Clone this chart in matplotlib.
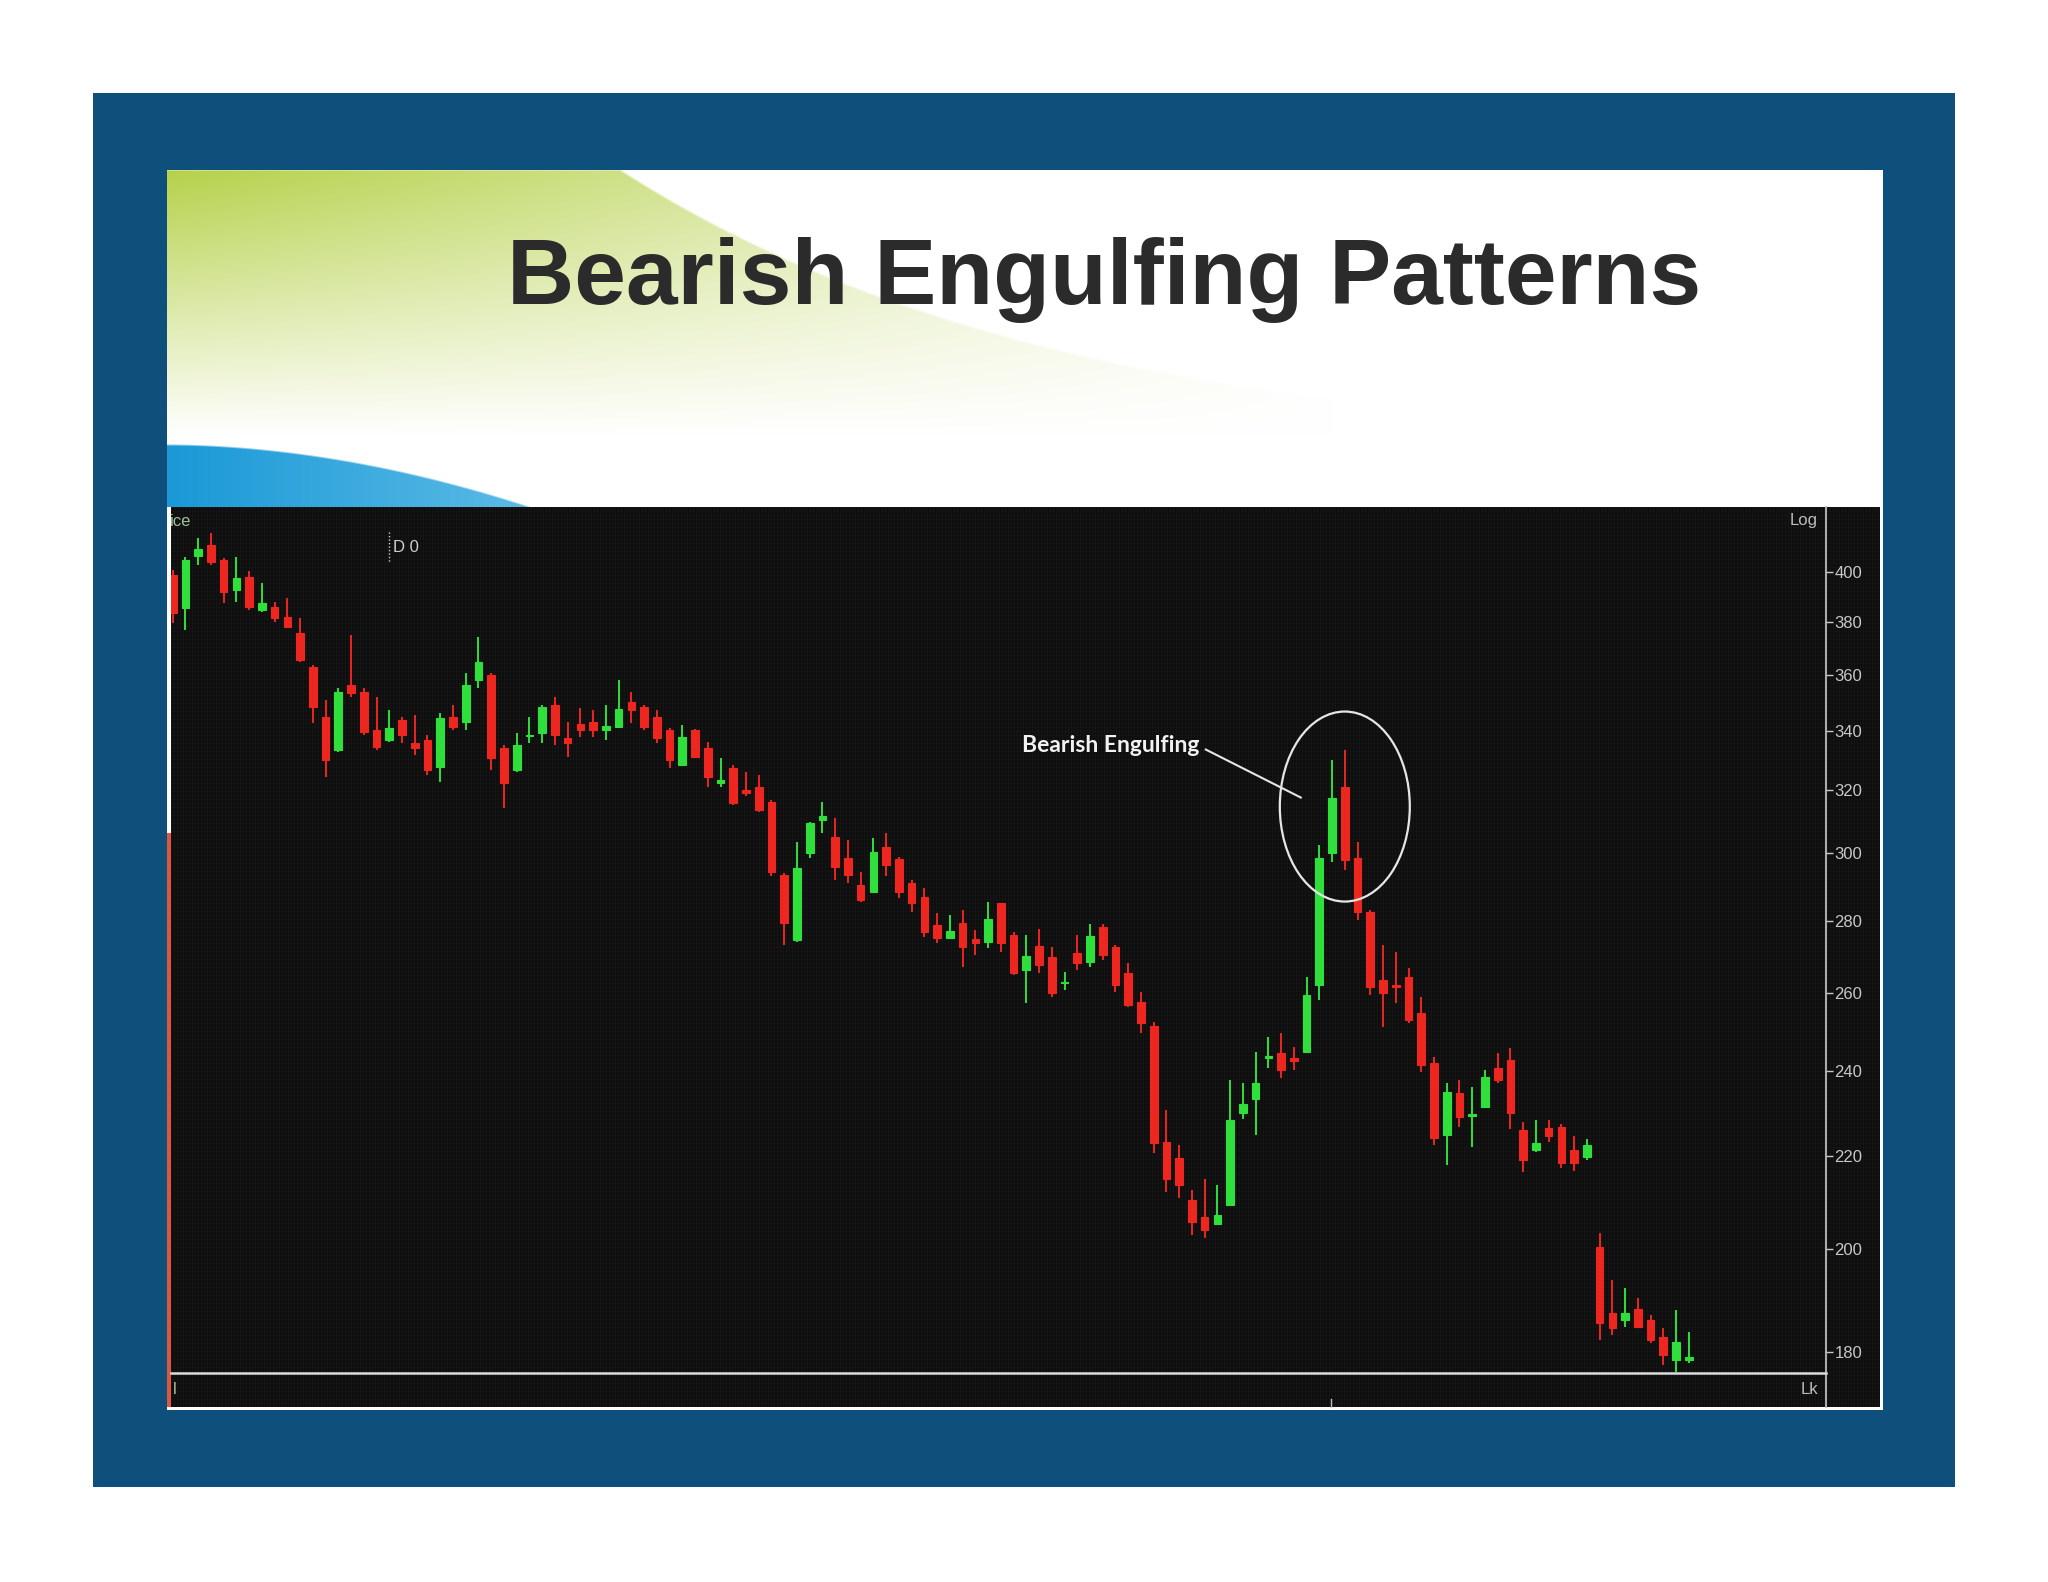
import numpy as np
import matplotlib
matplotlib.use("Agg")
import matplotlib.pyplot as plt
from matplotlib.patches import Rectangle, Ellipse
from matplotlib.ticker import FixedLocator, NullLocator, FuncFormatter

# ---------------- data ----------------
title = "Bearish Engulfing Patterns"
annotation = "Bearish Engulfing"
pattern_day = 93            # red candle that engulfs the previous green one
pattern_price = 314.7       # vertical centre of the highlight ellipse
price_ticks = [180, 200, 220, 240, 260, 280, 300, 320, 340, 360, 380, 400]

opens = [398.9, 385.6, 406.8, 411.4, 405.1, 392.9, 398.2, 384.9, 386.2, 382.2,
         375.8, 363.2, 345.0, 333.5, 356.4, 354.0, 340.4, 336.9, 343.9, 336.0,
         336.9, 327.8, 345.0, 343.3, 358.3, 360.1, 334.1, 326.7, 338.4, 339.2,
         349.2, 337.5, 342.5, 343.3, 340.2, 341.3, 350.4, 348.6, 345.0, 340.4,
         328.4, 340.4, 334.1, 322.3, 327.3, 320.1, 321.2, 316.3, 293.4, 274.5,
         300.0, 310.4, 305.1, 298.4, 290.4, 288.4, 302.0, 298.1, 290.9, 286.9,
         278.8, 275.0, 279.2, 274.7, 274.0, 285.0, 275.9, 266.2, 272.8, 269.8,
         262.6, 270.8, 268.5, 278.3, 272.6, 265.3, 257.7, 251.4, 223.3, 219.5,
         210.3, 206.7, 205.3, 209.3, 229.9, 233.2, 243.2, 244.4, 243.2, 244.8,
         262.1, 300.0, 321.2, 298.4, 282.6, 263.5, 262.1, 264.4, 254.6, 241.9,
         224.8, 234.8, 229.2, 231.4, 240.7, 242.8, 226.0, 221.4, 226.4, 226.6,
         221.4, 219.8, 200.5, 187.3, 186.0, 188.2, 186.0, 182.8, 178.5, 178.5]
highs = [401.0, 406.5, 414.2, 416.4, 405.8, 406.5, 400.7, 395.6, 388.2, 389.5,
         381.6, 363.8, 351.0, 355.2, 375.2, 355.2, 352.2, 347.4, 345.0, 345.6,
         338.6, 346.2, 349.2, 360.7, 374.5, 360.7, 335.2, 339.2, 345.0, 349.2,
         352.2, 343.3, 348.0, 347.4, 349.2, 358.3, 354.0, 349.2, 347.4, 341.0,
         342.1, 340.7, 336.3, 330.7, 328.4, 326.2, 325.0, 316.8, 293.9, 303.6,
         309.9, 316.3, 311.0, 304.1, 294.4, 304.6, 306.2, 298.9, 291.9, 289.4,
         282.1, 281.6, 283.1, 277.3, 285.5, 285.2, 276.8, 275.9, 277.5, 272.6,
         265.7, 275.9, 279.0, 279.0, 273.1, 268.0, 260.3, 252.5, 230.6, 222.5,
         212.5, 215.0, 213.6, 237.8, 237.2, 244.8, 248.6, 249.5, 246.1, 264.4,
         302.6, 330.1, 333.5, 303.6, 283.1, 273.1, 271.2, 266.6, 259.0, 243.5,
         237.0, 237.8, 236.2, 240.3, 244.4, 245.7, 227.8, 228.3, 228.3, 227.4,
         224.6, 223.9, 203.3, 193.8, 192.1, 190.2, 186.9, 184.4, 187.9, 183.8]
lows = [379.8, 377.1, 403.0, 403.0, 387.5, 388.2, 384.9, 384.2, 380.3, 377.8,
        365.0, 342.7, 324.5, 332.9, 352.2, 338.6, 333.5, 336.3, 335.8, 331.8,
        325.0, 322.8, 340.4, 340.4, 355.2, 326.7, 314.1, 326.1, 335.8, 335.8,
        335.2, 331.2, 338.0, 337.8, 336.9, 341.0, 342.7, 340.4, 335.8, 327.3,
        328.1, 330.7, 321.2, 321.2, 315.2, 318.0, 313.1, 293.0, 273.1, 274.0,
        298.4, 306.2, 291.9, 290.9, 285.5, 287.9, 293.0, 286.5, 282.6, 275.4,
        273.6, 274.7, 267.1, 270.3, 272.2, 271.2, 264.8, 257.3, 265.3, 259.0,
        260.8, 266.2, 267.1, 268.9, 260.3, 256.4, 249.5, 220.6, 212.1, 210.7,
        202.9, 202.2, 205.0, 209.0, 228.4, 224.8, 240.7, 238.2, 240.3, 244.4,
        258.1, 297.4, 294.9, 280.2, 259.5, 251.2, 257.3, 252.1, 239.9, 222.5,
        218.0, 226.7, 222.1, 231.0, 237.0, 226.3, 216.4, 220.9, 223.2, 217.3,
        216.7, 219.1, 182.2, 183.2, 184.7, 184.4, 181.6, 177.6, 176.4, 177.9]
closes = [383.7, 405.1, 409.6, 404.4, 392.2, 397.6, 386.2, 387.5, 381.6, 378.4,
          365.7, 348.6, 330.1, 354.0, 353.4, 339.8, 334.6, 341.0, 338.6, 334.1,
          326.7, 344.5, 341.5, 356.4, 365.0, 330.7, 322.3, 335.2, 338.8, 348.4,
          338.6, 335.8, 340.4, 340.4, 341.8, 347.6, 347.4, 341.5, 337.5, 330.1,
          337.8, 331.2, 324.5, 323.4, 315.8, 319.0, 313.6, 294.4, 279.2, 295.4,
          309.4, 311.7, 295.9, 293.4, 286.0, 300.5, 296.4, 288.4, 285.0, 276.8,
          275.0, 277.1, 272.6, 273.6, 280.4, 273.6, 265.3, 270.0, 267.6, 259.9,
          263.0, 268.0, 275.6, 270.3, 262.1, 256.8, 252.1, 222.9, 215.0, 213.6,
          205.7, 204.0, 207.1, 228.3, 232.1, 237.2, 243.7, 240.3, 242.6, 259.5,
          298.5, 317.4, 297.9, 282.6, 261.7, 259.9, 261.5, 252.9, 241.5, 224.0,
          235.0, 229.1, 229.7, 238.6, 237.8, 229.9, 219.1, 223.0, 224.6, 218.4,
          218.4, 222.5, 185.4, 184.4, 187.4, 184.7, 182.2, 179.4, 181.9, 179.1]

# ---------------- figure ----------------
W, H = 2048, 1582
fig = plt.figure(figsize=(W / 100, H / 100), dpi=100)
fig.patch.set_facecolor("white")

bg = fig.add_axes([0, 0, 1, 1], zorder=0)
bg.set_xlim(0, W)
bg.set_ylim(H, 0)
bg.axis("off")

FRAME = "#0f4f7b"
bg.add_patch(Rectangle((93, 93), 1862, 1394, color=FRAME, lw=0))
bg.add_patch(Rectangle((167, 170), 1716, 1240, color="white", lw=0))

# green swoosh (decoration): smooth curved edge, fading to white
px0, px1, py0, py1 = 167, 1882, 170, 507
xx, yy = np.meshgrid(np.arange(px0, px1) + 0.5, np.arange(py0, py1) + 0.5)
dx = np.clip(xx - 620, 0, None)
yb = 170 + 290 * (1 - np.exp(-dx / 450.0))
inside = np.clip((yy - yb) / 3.0 + 0.5, 0, 1)
v = np.clip(1 - (yy - 170) / 265.0, 0, 1)
h = np.clip(1 - (xx - 167) / 1166.0, 0, 1) ** 0.8
a = inside * v * h
green = np.array([0.71, 0.82, 0.29])
img = np.ones(xx.shape + (4,))
img[..., :3] = 1 - a[..., None] * (1 - green)
# blue swoosh: smooth arc from the left edge down into the chart top
tb = np.clip((xx - 167) / 362.0, 0, None)
ybb = 445 + 62 * tb ** 1.9
binside = np.clip((yy - ybb) / 2.0 + 0.5, 0, 1) * (xx < 531)
t = np.clip(tb, 0, 1)[..., None]
blue = (1 - t) * np.array([0.10, 0.60, 0.84]) + t * np.array([0.36, 0.73, 0.90])
img[..., :3] = img[..., :3] * (1 - binside[..., None]) + blue * binside[..., None]
bg.imshow(img, extent=(px0, px1, py1, py0), origin="upper", aspect="auto",
          interpolation="bilinear", zorder=1)

# chart background with a faint canvas texture
cx0, cx1, cy0, cy1 = 171, 1880, 507, 1407
tx, ty = np.meshgrid(np.arange(cx1 - cx0), np.arange(cy1 - cy0))
tex = 0.055 + 0.025 * ((tx % 3) == 0) + 0.015 * ((ty % 4) == 0)
texture = np.dstack([tex, tex, tex])
bg.imshow(texture, extent=(cx0, cx1, cy1, cy0), origin="upper", aspect="auto",
          interpolation="nearest", zorder=2)
bg.add_patch(Rectangle((167, 833), 4, 574, color="#d9583f", lw=0, zorder=3))
bg.plot([1826, 1826], [507, 1407], color="#bdbdbd", lw=1.3, zorder=3)
bg.plot([171, 1826], [1373, 1373], color="#dcdcdc", lw=1.8, zorder=3)
bg.plot([1331, 1331], [1399, 1407], color="#bdbdbd", lw=1.0, zorder=3)

bg.text(1104, 304, title, ha="center", va="baseline", fontsize=67,
        fontweight="bold", family="Liberation Sans", color="#2b2b2b", zorder=4)

# small chart labels
lab = dict(family="Liberation Sans", fontsize=12, zorder=4)
bg.text(170, 521, "ice", color="#9fbf9f", ha="left", va="center", **lab)
bg.text(393, 547, "D 0", color="#cfcfcf", ha="left", va="center", **lab)
bg.plot([389, 389], [532, 562], color="#cfcfcf", lw=1, ls=(0, (1, 1.5)), zorder=4)
bg.text(1818, 521, "Log", color="#bdbdbd", ha="right", va="center", **lab)
bg.text(173, 1389, "l", color="#9fbf9f", ha="left", va="center", **lab)
bg.text(1818, 1389, "Lk", color="#bdbdbd", ha="right", va="center", **lab)

# ---------------- candlestick axes ----------------
ax = fig.add_axes([171 / W, (H - 1373) / H, (1826 - 171) / W, (1373 - 507) / H],
                  zorder=1)
ax.patch.set_alpha(0)
days = np.arange(1, len(opens) + 1)
o = np.array(opens); c = np.array(closes)
hi = np.array(highs); lo = np.array(lows)
up = c >= o
cols = np.where(up, "#2fe03c", "#ee2620")
ax.vlines(days, lo, hi, colors=cols, linewidth=1.4, zorder=2)
ax.bar(days, np.abs(c - o), bottom=np.minimum(o, c), width=0.6, color=cols,
       edgecolor=cols, linewidth=0.8, zorder=3)
ax.set_yscale("log")
ax.set_xlim(0.867, 130.77)
ax.set_ylim(176.17, 427.7)
ax.yaxis.set_major_locator(FixedLocator(price_ticks))
ax.yaxis.set_minor_locator(NullLocator())
ax.yaxis.set_major_formatter(FuncFormatter(lambda v, p: f"{v:.0f}"))
ax.yaxis.tick_right()
ax.tick_params(axis="y", direction="out", length=5, width=1, colors="#c8c8c8",
               labelsize=12, pad=1)
for lbl in ax.get_yticklabels():
    lbl.set_family("Liberation Sans")
ax.set_xticks([])
for s in ax.spines.values():
    s.set_visible(False)

# ---------------- annotation overlay ----------------
ov = fig.add_axes([0, 0, 1, 1], zorder=3)
ov.set_xlim(0, W)
ov.set_ylim(H, 0)
ov.axis("off")
ov.patch.set_alpha(0)
ex, ey = ax.transData.transform((pattern_day, pattern_price))
ey = H - ey
ov.add_patch(Ellipse((ex, ey), 130, 190, fill=False, edgecolor="#e6e6e6", lw=1.6))
ov.plot([ex - 139, ex - 44], [ey - 57, ey - 9], color="#e6e6e6", lw=1.5)
ov.text(ex - 323, ey - 55, annotation, ha="left", va="baseline",
        fontsize=16.5, fontweight="bold", family="Lato", color="#f2f2f2")

fig.savefig("out.png", dpi=100)
